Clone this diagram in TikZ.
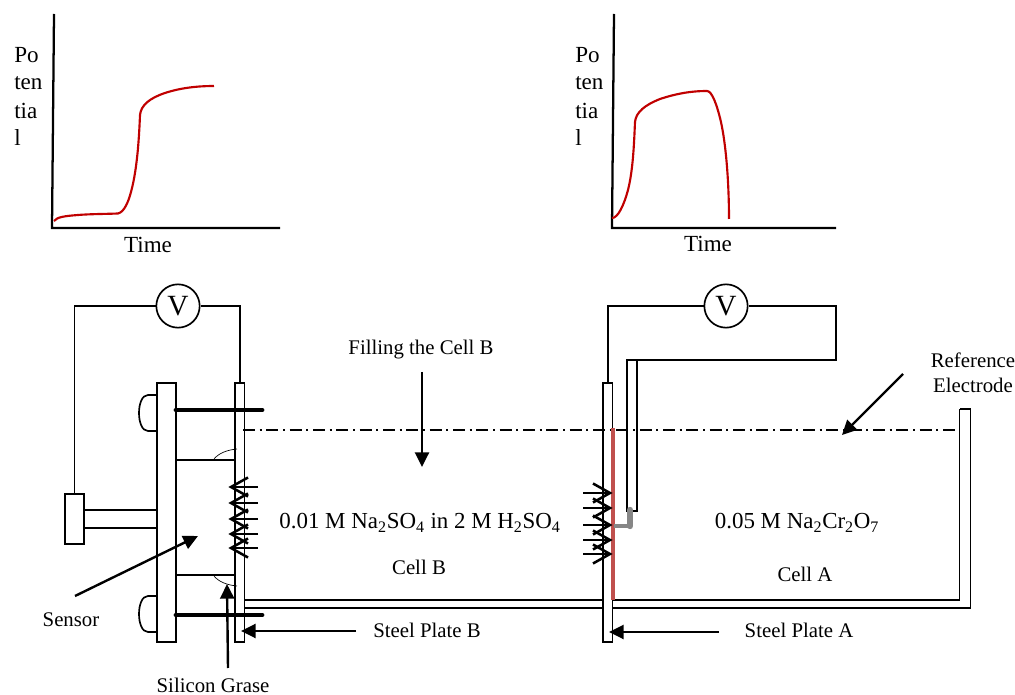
\documentclass[tikz,border=0pt]{standalone}
\usepackage{fontspec}
\setmainfont{Liberation Serif}
\usetikzlibrary{arrows.meta,calc}
\definecolor{curve}{RGB}{192,0,0}
\definecolor{film}{RGB}{192,80,77}
\tikzset{
  wire/.style={draw=black,line width=1.25pt},
  axisline/.style={draw=black,line width=1.7pt},
  plate/.style={draw=black,line width=1.25pt,fill=white,inner sep=0pt,outer sep=0pt,minimum width=#1},
  meter/.style={circle,draw=black,line width=1.25pt,fill=white,minimum size=32.5pt,inner sep=0pt,font=\fontsize{22}{24}\selectfont},
  graphcurve/.style={draw=curve,line width=1.6pt,line join=round},
  bolt/.style={draw=black,line width=3.6pt,line cap=round},
  pointer/.style={draw=black,line width=1.8pt,-{Triangle[length=11pt,width=10.5pt]}},
  ticks/.style={draw=black,line width=1.9pt},
  lbl/.style={inner sep=0pt,font=\fontsize{15.6}{18.7}\selectfont},
  big/.style={inner sep=0pt,font=\fontsize{17.3}{20}\selectfont},
  sol/.style={inner sep=0pt,font=\fontsize{17.2}{20}\selectfont},
}
\begin{document}
\begin{tikzpicture}[x=0.75pt,y=-0.75pt]
\useasboundingbox (0,0) rectangle (1015,695);
% Graph 1
\coordinate (g1top) at (54,14); \coordinate (g1o) at (52,228); \coordinate (g1r) at (280,228);
\draw[axisline] (g1top) -- (g1o) -- (g1r);
\draw[graphcurve] (54,221) .. controls (57,217) and (65,216) .. (78,215) .. controls (90,214) and (105,214) .. (118,213.5)
  .. controls (124,212) and (128,203) .. (131,192) .. controls (137,170) and (139,140) .. (140,115)
  .. controls (141,105) and (150,98) .. (165,93) .. controls (180,88) and (197,86) .. (214,86);
\foreach \n/\t/\yy in {a/Po/55,b/ten/83,c/tia/111,d/l/138}{
  \node[big,anchor=west] (p1\n) at (14,\yy) {\t};
  \node[big,anchor=west] (p2\n) at (575,\yy) {\t};
}
\node[big] (t1) at (148,245) {Time};
% Graph 2
\coordinate (g2top) at (614,14); \coordinate (g2o) at (612,228); \coordinate (g2r) at (836,228);
\draw[axisline] (g2top) -- (g2o) -- (g2r);
\draw[graphcurve] (612,218) .. controls (618,218) and (624,205) .. (628,190) .. controls (633,170) and (634,145) .. (635,122)
  .. controls (636,112) and (645,105) .. (660,99) .. controls (675,94) and (690,91) .. (707,91)
  .. controls (712,91) and (717,105) .. (721,122) .. controls (727,150) and (729,190) .. (729,219);
\node[big] (t2) at (708,244) {Time};
% Left sensor assembly
\draw[wire] (157,395) -- (148,395) .. controls (136,395) and (136,431) .. (148,431) -- (157,431);
\draw[wire] (157,596) -- (148,596) .. controls (136,596) and (136,632) .. (148,632) -- (157,632);
\node[plate=19*0.75pt,minimum height=259*0.75pt,anchor=north west] (bigplate) at (157,383) {};
\node[plate=9.5*0.75pt,minimum height=259*0.75pt,anchor=north west] (plateB) at (235,383) {};
\node[plate=9.5*0.75pt,minimum height=259*0.75pt,anchor=north west] (plateA) at (603,383) {};
\node[plate=19*0.75pt,minimum height=50*0.75pt,anchor=north west] (probe) at (65,494) {};
\coordinate (t1a) at (84,510); \coordinate (t1b) at (157,510); \coordinate (t2a) at (84,528); \coordinate (t2b) at (157,528);
\draw[wire] (t1a) -- (t1b) (t2a) -- (t2b);
\draw[wire] (176,460) -- (235,460) (176,575) -- (235,575);
\draw[line width=0.5pt] (214,459) .. controls (219,453) and (227,450) .. (237,449);
\draw[line width=0.5pt] (214,576) .. controls (219,582) and (227,585) .. (237,586);
\draw[bolt] (176,410) -- (262,410);
\draw[bolt] (176,615) -- (262,615);
\node[meter] (v1) at (178,306) {V};
\node[meter] (v2) at (726,306) {V};
\draw[wire] (v1.west) -| (probe.north);
\draw[wire] (v1.east) -| (plateB.north);
% Tank
\coordinate (tankA) at (244.5,600); \coordinate (tankB) at (959.5,600); \coordinate (tankC) at (959.5,409);
\coordinate (tankD) at (244.5,608); \coordinate (tankE) at (970.5,608); \coordinate (tankF) at (970.5,409);
\draw[wire] (tankA) -- (603,600) (612,600) -- (tankB) -- (tankC);
\draw[wire] (tankD) -- (603,608) (612,608) -- (tankE) -- (tankF) -- (tankC);
% Reference electrode
\node[plate=10*0.75pt,minimum height=151*0.75pt,anchor=north west] (refel) at (627,360) {};
\coordinate (bend) at (836,360);
\draw[wire] (v2.west) -| (plateA.north);
\draw[wire] (v2.east) -| (bend) -- (refel.north east);
\coordinate (levelL) at (243,430); \coordinate (levelR) at (957,430);
\draw[line width=1.25pt,dash pattern=on 9pt off 3.5pt on 1.5pt off 3.5pt] (levelL) -- (levelR);
\draw[film,line width=2.8pt] (613,428) -- (613,600);
\draw[draw=gray!95,line width=3pt] (614,526) -- (630,526);
\draw[draw=gray!95,line width=4.8pt,line cap=round] (630,526) -- (630,510);
% Ion arrows at B
\foreach \yy in {487,503,519,534,548}{
  \draw[ticks] (258,\yy) -- (231,\yy);
  \draw[ticks] (248,\yy-9.5) -- (231,\yy) -- (248,\yy+9.5);
}
% Ion arrows at A
\foreach \yy in {493,508,525,540,554}{
  \draw[ticks] (583,\yy) -- (610,\yy);
  \draw[ticks] (593,\yy-9.5) -- (610,\yy) -- (593,\yy+9.5);
}
% Labels
\node[lbl] (fill) at (421,350) {Filling the Cell B};
\node[lbl,align=center] (ref) at (973,372.5) {Reference\\Electrode};
\node[sol] (solB) at (420,523) {0.01 M Na\textsubscript{2}SO\textsubscript{4} in 2 M H\textsubscript{2}SO\textsubscript{4}};
\node[sol] (solA) at (797,523) {0.05 M Na\textsubscript{2}Cr\textsubscript{2}O\textsubscript{7}};
\node[lbl] (cellB) at (419,567) {Cell B};
\node[lbl] (cellA) at (805,574) {Cell A};
\node[lbl] (spB) at (427,630) {Steel Plate B};
\node[lbl] (spA) at (799,630) {Steel Plate A};
\node[lbl] (sensor) at (71,620) {Sensor};
\node[lbl] (sil) at (213,685) {Silicon Grase};
% Pointers
\coordinate (fillS) at (422,372); \coordinate (fillE) at (422,467);
\coordinate (refS) at (903,374); \coordinate (refE) at (842,435);
\coordinate (senS) at (75,596); \coordinate (senE) at (198,536);
\coordinate (silS) at (228,668); \coordinate (silE) at (227,584);
\coordinate (spBS) at (356,631); \coordinate (spBE) at (241,631);
\coordinate (spAS) at (719,632); \coordinate (spAE) at (609,632);
\draw[pointer] (fillS) -- (fillE);
\draw[pointer] (refS) -- (refE);
\draw[pointer] (senS) -- (senE);
\draw[pointer] (silS) -- (silE);
\draw[pointer] (spBS) -- (spBE);
\draw[pointer] (spAS) -- (spAE);
\end{tikzpicture}
\end{document}
